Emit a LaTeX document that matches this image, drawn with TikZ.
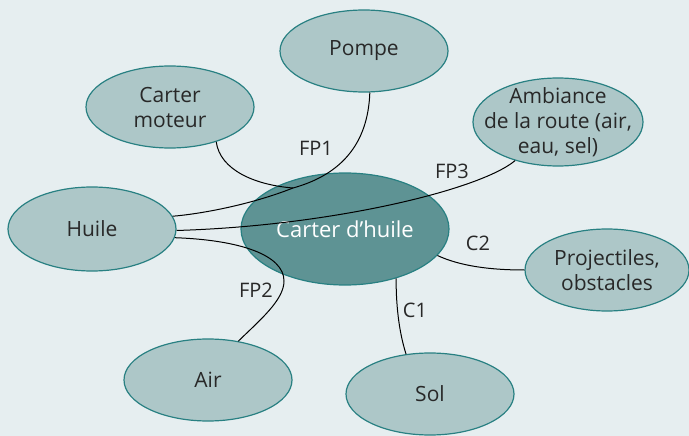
\documentclass[tikz,border=0pt]{standalone}
\usepackage{fontspec}
\setmainfont{Open Sans}
\usetikzlibrary{shapes.geometric}
\definecolor{bgc}{RGB}{230,238,240}
\definecolor{lightfill}{RGB}{173,199,200}
\definecolor{darkfill}{RGB}{94,147,148}
\definecolor{bordc}{RGB}{40,128,130}
\definecolor{txtc}{RGB}{40,40,40}
\tikzset{
  ell/.style={ellipse, draw=bordc, line width=1.2pt, fill=lightfill, inner sep=0pt,
    minimum width=168pt, minimum height=82pt, align=center, text=txtc,
    font=\fontsize{21}{25}\selectfont},
  centre/.style={ell, fill=darkfill, text=white, minimum width=208pt, minimum height=112pt,
    font=\fontsize{22}{25}\selectfont},
  conn/.style={draw=black, line width=1pt},
  lab/.style={text=txtc, font=\fontsize{20}{24}\selectfont, inner sep=0pt}
}
\begin{document}
\begin{tikzpicture}[x=1pt,y=-1pt]
\fill[bgc] (0,0) rectangle (689,436);
\useasboundingbox (0,0) rectangle (689,436);
\node[ell] (pompe) at (364,51) {Pompe};
\node[ell] (moteur) at (170,107) {Carter\\moteur};
\node[ell, minimum width=170pt, minimum height=88pt, inner sep=-16pt] (amb) at (558,122) {Ambiance\\de la route (air,\\eau, sel)};
\node[ell, minimum height=84pt] (huile) at (92,229) {Huile};
\node[ell] (air) at (208,380) {Air};
\node[ell] (sol) at (430,394) {Sol};
\node[ell, minimum width=164pt] (proj) at (607,270) {Projectiles,\\obstacles};
\node[centre] (carter) at (345,229) {Carter d’huile};
\coordinate (j) at (293,188);
% FP1
\draw[conn] (pompe.-82) .. controls (368,145) and (340,175) .. (j)
  .. controls (250,205) and (200,214) .. (huile.9);
\draw[conn] (moteur.-37) .. controls (220,170) and (255,185) .. (j);
% FP3
\draw[conn] (huile.-1) .. controls (330,226) and (480,190) .. (amb.222);
% FP2
\draw[conn] (huile.-6) .. controls (240,240) and (284,255) .. (284,281)
  .. controls (284,300) and (260,320) .. (air.52);
% C2
\draw[conn] (carter.-16) .. controls (460,266) and (490,270) .. (proj.180);
% C1
\draw[conn] (carter.-44) .. controls (396,310) and (400,335) .. (sol.121);
\node[lab] (fp1) at (316,148) {FP1};
\node[lab] (fp3) at (452,171) {FP3};
\node[lab] (fp2) at (256,290) {FP2};
\node[lab] (c2) at (478,243) {C2};
\node[lab] (c1) at (415,310) {C1};
\end{tikzpicture}
\end{document}
